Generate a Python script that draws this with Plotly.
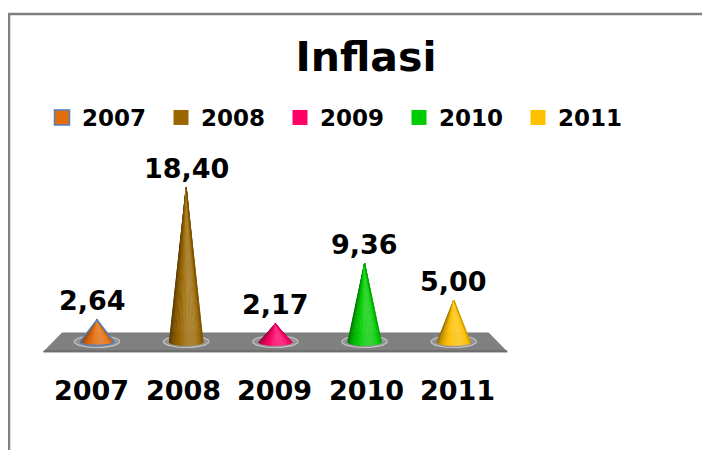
import numpy as np
import plotly.graph_objects as go

# ---------------- data ----------------
categories = ["2007", "2008", "2009", "2010", "2011"]
inflation = [2.64, 18.40, 2.17, 9.36, 5.00]
colors = ["#E46C0A", "#996600", "#FF0066", "#00CC00", "#FFC000"]
chart_title = "Inflasi"

FONT = "DejaVu Sans"
W, H = 710, 450
OFF = 8  # page body margin offset in the browser

# pixel-consistent axis ranges (margins are zero)
X0_PX, X_STEP = 97.0 - OFF, 89.2      # pixel position of first category, pixels per category
Y0_PX, Y_STEP = 342.0 - OFF, 8.4      # pixel position of value 0, pixels per unit
xrange_ = [(0 - X0_PX) / X_STEP, (W - X0_PX) / X_STEP]
yrange_ = [(Y0_PX - H) / Y_STEP, Y0_PX / Y_STEP]


def fx_(px):
    return (px - OFF) / W


def fy_(py):
    return 1 - (py - OFF) / H


def hex_to_rgb(h):
    h = h.lstrip("#")
    return np.array([int(h[i:i + 2], 16) for i in (0, 2, 4)], dtype=float)


def shade(rgb, b):
    if b <= 1:
        c = rgb * b
    else:
        t = min(1.0, (b - 1) * 1.6)
        c = rgb + (255 - rgb) * t
    c = np.clip(c, 0, 255)
    return "rgb(%d,%d,%d)" % tuple(c.astype(int))


fig = go.Figure()
xs = np.arange(len(categories))

# ---------------- floor ----------------
top_over, bot_over = 0.39, 0.60
floor_top, floor_bot = 1.07, -1.19
fx = [xs[0] - top_over, xs[-1] + top_over, xs[-1] + bot_over, xs[0] - bot_over, xs[0] - top_over]
fy = [floor_top, floor_top, floor_bot, floor_bot, floor_top]
fig.add_trace(go.Scatter(x=fx, y=fy, fill="toself", mode="lines",
                         line=dict(color="#7a7a7a", width=1), fillcolor="#808080",
                         hoverinfo="skip", showlegend=False))
edge_h = 0.25
fig.add_trace(go.Scatter(
    x=[xs[0] - bot_over, xs[-1] + bot_over, xs[-1] + bot_over - 0.02, xs[0] - bot_over + 0.02, xs[0] - bot_over],
    y=[floor_bot + edge_h, floor_bot + edge_h, floor_bot, floor_bot, floor_bot + edge_h],
    fill="toself", mode="lines", line=dict(color="#6e6e6e", width=0), fillcolor="#6e6e6e",
    hoverinfo="skip", showlegend=False))

# ---------------- cones ----------------
a = 0.19      # half width of cone base (x units)
b = 0.42      # semi-minor axis of base ellipse (y units)
N = 28
for i, (v, col) in enumerate(zip(inflation, colors)):
    rgb = hex_to_rgb(col)
    th = np.linspace(0, 2 * np.pi, 60)
    fig.add_trace(go.Scatter(x=i + 0.255 * np.cos(th), y=0.05 + 0.72 * np.sin(th),
                             fill="toself", mode="lines",
                             line=dict(color="rgba(235,235,235,0.6)", width=1.2),
                             fillcolor="#939393", hoverinfo="skip", showlegend=False))
    thetas = np.linspace(0, np.pi, N + 1)
    for k in range(N):
        t0, t1 = thetas[k], thetas[k + 1]
        tm = 0.5 * (t0 + t1)
        s = np.cos(tm - 0.6 * np.pi)
        bright = 0.62 + 0.5 * s
        c = shade(rgb, bright)
        px = [i, i - a * np.cos(t0), i - a * np.cos(t1), i]
        py = [v, -b * np.sin(t0), -b * np.sin(t1), v]
        fig.add_trace(go.Scatter(x=px, y=py, fill="toself", mode="lines",
                                 line=dict(color=c, width=0.6), fillcolor=c,
                                 hoverinfo="skip", showlegend=False))
    if i == 0:
        tt = np.linspace(0, np.pi, 30)
        ox = list(i - a * np.cos(tt)) + [i, i - a]
        oy = list(-b * np.sin(tt)) + [v, 0]
        fig.add_trace(go.Scatter(x=ox, y=oy, mode="lines",
                                 line=dict(color="#4F81BD", width=1.5),
                                 hoverinfo="skip", showlegend=False))

# ---------------- legend entries ----------------
for i, (cat, col) in enumerate(zip(categories, colors)):
    fig.add_trace(go.Scatter(
        x=[None], y=[None], mode="markers", name=cat,
        marker=dict(symbol="square", size=15, color=col,
                    line=dict(color="#4F81BD" if i == 0 else col, width=1.5 if i == 0 else 0))))

# ---------------- annotations ----------------
annotations = []
for i, v in enumerate(inflation):
    annotations.append(dict(x=i, y=v, xref="x", yref="y", yshift=19,
                            xshift=-5 if i == 0 else 0,
                            text=f"{v:.2f}".replace(".", ","), showarrow=False,
                            xanchor="center", yanchor="middle",
                            font=dict(family=FONT, size=27, color="black", weight="bold")))
for i, cat in enumerate(categories):
    annotations.append(dict(x=i, y=fy_(390), xref="x", yref="paper",
                            xshift=round(-6 + 2.6 * i),
                            text=cat, showarrow=False, xanchor="center", yanchor="middle",
                            font=dict(family=FONT, size=27, color="black", weight="bold")))

fig.update_layout(
    width=W, height=H,
    margin=dict(l=0, r=0, t=0, b=0),
    paper_bgcolor="white", plot_bgcolor="white",
    title=dict(text=chart_title, x=fx_(366), y=fy_(57), xref="container", yref="container",
               xanchor="center", yanchor="middle",
               font=dict(family=FONT, size=41, color="black", weight="bold")),
    xaxis=dict(range=xrange_, visible=False, fixedrange=True),
    yaxis=dict(range=yrange_, visible=False, fixedrange=True),
    showlegend=True,
    legend=dict(orientation="h", x=fx_(42), y=fy_(96), xanchor="left", yanchor="top",
                font=dict(family=FONT, size=23, color="black", weight="bold"),
                entrywidth=74, itemwidth=30, bgcolor="rgba(0,0,0,0)"),
    annotations=annotations,
    shapes=[dict(type="rect", xref="paper", yref="paper",
                 x0=fx_(9), x1=1.05, y0=-0.05, y1=fy_(14),
                 line=dict(color="#7f7f7f", width=2.5), fillcolor="rgba(0,0,0,0)",
                 layer="below")],
)

fig.write_html("out.html")
